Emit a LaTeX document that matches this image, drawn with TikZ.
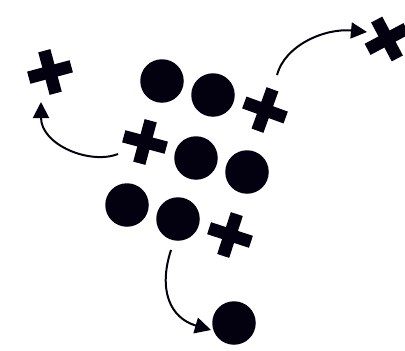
\documentclass[tikz,border=0pt]{standalone}
\usetikzlibrary{arrows.meta}
\definecolor{inkc}{RGB}{3,1,15}
\tikzset{
  dot/.style={circle, fill=inkc, draw=none, minimum size=43.5pt, inner sep=0pt},
  plus/.pic={
    \fill[inkc] (-22,-6.3) rectangle (22,6.3);
    \fill[inkc] (-6.3,-22) rectangle (6.3,22);
    \coordinate (-c) at (0,0);
  },
  curvearrow/.style={line width=2pt, draw=inkc, -{Triangle[length=16pt 0,width=16pt 0]}}
}
\begin{document}
\begin{tikzpicture}[x=1pt,y=-1pt]
\useasboundingbox (0,0) rectangle (405,351);
% circles
\node[dot] (c1) at (162,81) {};
\node[dot] (c2) at (213,95) {};
\node[dot] (c3) at (196,158) {};
\node[dot] (c4) at (247,172) {};
\node[dot] (c5) at (127,205) {};
\node[dot] (c6) at (178,219) {};
\node[dot] (c7) at (234,323) {};
% crosses
\pic[rotate=15] (x1) at (50,72) {plus};
\pic[rotate=-20] (x2) at (265,110) {plus};
\pic[rotate=-15] (x3) at (145,142) {plus};
\pic[rotate=-18] (x4) at (230,235) {plus};
\pic[rotate=28] (x5) at (387,39) {plus};
% arrow end points
\coordinate (a1s) at (118,154);
\coordinate (a1e) at (41,102);
\coordinate (a2s) at (277,75);
\coordinate (a2e) at (367,32);
\coordinate (a3s) at (171,250);
\coordinate (a3e) at (211,330);
% arrows
\draw[curvearrow] (a1s) .. controls (90,165) and (41,145) .. (a1e);
\draw[curvearrow] (a2s) .. controls (285,45) and (325,28) .. (a2e);
\draw[curvearrow] (a3s) .. controls (158,290) and (170,318) .. (a3e);
\end{tikzpicture}
\end{document}
